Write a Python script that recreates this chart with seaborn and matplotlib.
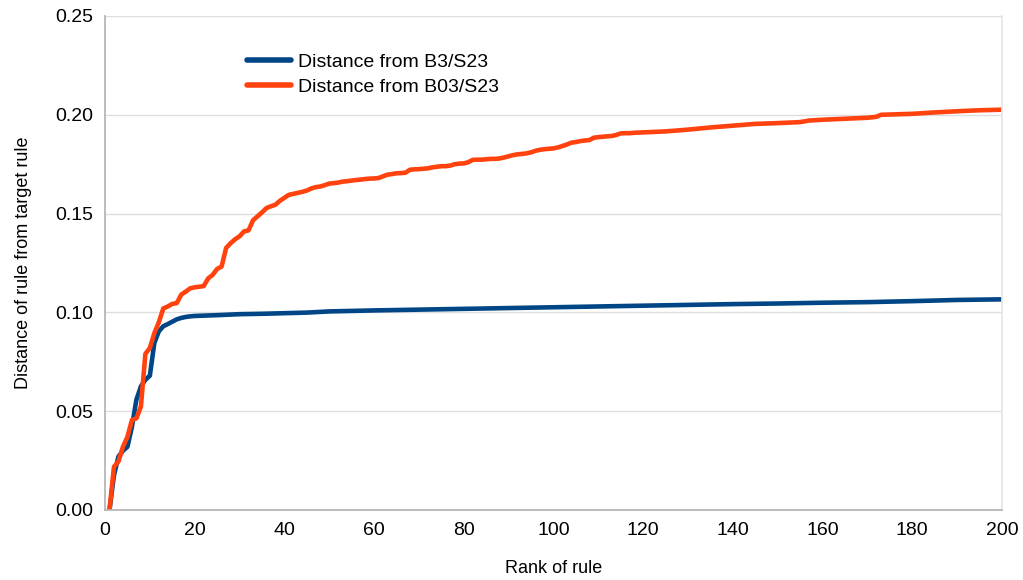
"""Distance of ranked rules from the two target rules (B3/S23 and B03/S23)."""
import matplotlib
matplotlib.use("Agg")
import matplotlib.pyplot as plt
import numpy as np
import pandas as pd
import seaborn as sns

# rank of rule -> distance
blue_rank = list(range(1, 21)) + [25, 30, 35, 40, 45, 50, 60, 70, 80, 90, 100,
                                   110, 120, 130, 140, 150, 160, 170, 180, 190, 200]
blue_dist = [0.0, 0.0176, 0.0270, 0.0300, 0.0320, 0.0420, 0.0558, 0.0625, 0.0659, 0.0680,
             0.0845, 0.0904, 0.0930, 0.0941, 0.0953, 0.0965, 0.0972, 0.0977, 0.0980, 0.0982,
             0.0986, 0.0991, 0.0993, 0.0996, 0.0999, 0.1005, 0.1010, 0.1014, 0.1018, 0.1022,
             0.1026, 0.1030, 0.1034, 0.1038, 0.1042, 0.1045, 0.1049, 0.1052, 0.1057, 0.1063,
             0.1066]

orange_rank = list(range(1, 120)) + [125, 130, 135, 140, 145, 150, 155, 157, 160, 165,
                                     170, 172, 173, 180, 185, 190, 195, 200]
orange_dist = [
    0.0, 0.0219, 0.0245, 0.0320, 0.0370, 0.0455, 0.0464, 0.0523, 0.0790, 0.0820,   # 1-10
    0.0895, 0.0950, 0.1020, 0.1030, 0.1043, 0.1047, 0.1090, 0.1105, 0.1122, 0.1127,  # 11-20
    0.1130, 0.1133, 0.1172, 0.1190, 0.1220, 0.1232, 0.1326, 0.1350, 0.1370, 0.1385,  # 21-30
    0.1410, 0.1415, 0.1466, 0.1486, 0.1506, 0.1528, 0.1537, 0.1545, 0.1565, 0.1580,  # 31-40
    0.1595, 0.1600, 0.1605, 0.1610, 0.1617, 0.1627, 0.1634, 0.1637, 0.1644, 0.1652,  # 41-50
    0.1654, 0.1657, 0.1662, 0.1664, 0.1667, 0.1670, 0.1672, 0.1675, 0.1677, 0.1678,  # 51-60
    0.1680, 0.1689, 0.1697, 0.1700, 0.1704, 0.1705, 0.1707, 0.1722, 0.1724, 0.1725,  # 61-70
    0.1727, 0.1729, 0.1734, 0.1737, 0.1740, 0.1740, 0.1743, 0.1750, 0.1753, 0.1754,  # 71-80
    0.1760, 0.1772, 0.1773, 0.1773, 0.1775, 0.1777, 0.1777, 0.1779, 0.1784, 0.1790,  # 81-90
    0.1796, 0.1800, 0.1802, 0.1805, 0.1810, 0.1818, 0.1823, 0.1826, 0.1828, 0.1830,  # 91-100
    0.1835, 0.1842, 0.1850, 0.1859, 0.1862, 0.1867, 0.1870, 0.1872, 0.1884, 0.1887,  # 101-110
    0.1889, 0.1891, 0.1893, 0.1898, 0.1906, 0.1907, 0.1907, 0.1909, 0.1910,          # 111-119
    0.1916, 0.1925, 0.1936, 0.1945, 0.1954, 0.1958, 0.1963, 0.1971, 0.1975, 0.1980,
    0.1985, 0.1990, 0.2000, 0.2005, 0.2012, 0.2018, 0.2023, 0.2026,
]

series_names = ["Distance from B3/S23", "Distance from B03/S23"]
colors = ["#004586", "#ff420e"]

df = pd.concat([
    pd.DataFrame({"rank": blue_rank, "dist": blue_dist, "series": series_names[0]}),
    pd.DataFrame({"rank": orange_rank, "dist": orange_dist, "series": series_names[1]}),
], ignore_index=True)

sns.set_theme(style="white")
plt.rcParams["font.family"] = ["Liberation Sans", "DejaVu Sans"]
plt.rcParams["text.color"] = "black"
plt.rcParams["axes.labelcolor"] = "black"

fig = plt.figure(figsize=(10.23, 5.8), dpi=100)
ax = fig.add_axes([105 / 1023, 1 - 510 / 580, 897 / 1023, 494 / 580])

sns.lineplot(data=df, x="rank", y="dist", hue="series", hue_order=series_names,
             palette=colors, linewidth=3.3, ax=ax, sort=True)

ax.set_xlim(0, 200)
ax.set_ylim(0, 0.25)
ax.set_xticks(np.arange(0, 201, 20))
ax.set_yticks(np.arange(0, 0.251, 0.05))
ax.yaxis.set_major_formatter(matplotlib.ticker.FormatStrFormatter("%.2f"))
ax.grid(axis="y", color="#dddddd", linewidth=1)
ax.set_axisbelow(True)

for side in ["left", "bottom"]:
    ax.spines[side].set_color("#b3b3b3")
ax.spines["right"].set_color("#e6e6e6")
ax.spines["top"].set_visible(False)
ax.tick_params(axis="both", colors="#b3b3b3", labelcolor="black", labelsize=14,
               direction="out", width=1)
ax.tick_params(axis="x", length=4.5, pad=4)
ax.tick_params(axis="y", length=7, pad=1.5)

ax.set_xlabel("Rank of rule", fontsize=13, labelpad=15)
ax.set_ylabel("Distance of rule from target rule", fontsize=13, labelpad=17)

ax.legend(loc="upper left", bbox_to_anchor=(0.158, 0.924), frameon=False,
          borderaxespad=0, borderpad=0, labelcolor="black",
          fontsize=14, handlelength=2.3, handletextpad=0.35, labelspacing=0.36)
for line in ax.get_legend().get_lines():
    line.set_linewidth(4)

fig.savefig("out.png", dpi=100)
